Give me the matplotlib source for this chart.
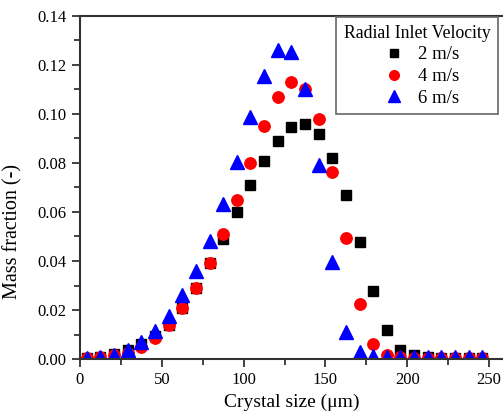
import matplotlib.pyplot as plt
from matplotlib.ticker import MultipleLocator, FormatStrFormatter

plt.rcParams['font.family'] = ['Liberation Serif', 'DejaVu Serif']

# crystal size bins (um)
size = [4.17, 12.5, 20.83, 29.17, 37.5, 45.83, 54.17, 62.5, 70.83, 79.17,
        87.5, 95.83, 104.17, 112.5, 120.83, 129.17, 137.5, 145.83, 154.17, 162.5,
        170.83, 179.17, 187.5, 195.83, 204.17, 212.5, 220.83, 229.17, 237.5, 245.83]

v2 = [0.0005, 0.001, 0.002, 0.0035, 0.006, 0.0095, 0.014, 0.021, 0.029, 0.039,
      0.049, 0.060, 0.071, 0.081, 0.089, 0.0945, 0.096, 0.092, 0.082, 0.067,
      0.0477, 0.0277, 0.0117, 0.0037, 0.0015, 0.0008, 0.0006, 0.0005, 0.0005, 0.0005]
v4 = [0.0005, 0.001, 0.0018, 0.0023, 0.005, 0.0087, 0.014, 0.021, 0.029, 0.039,
      0.051, 0.065, 0.080, 0.095, 0.107, 0.113, 0.110, 0.098, 0.0763, 0.0493,
      0.0226, 0.0062, 0.0016, 0.0008, 0.0005, 0.0005, 0.0005, 0.0005, 0.0005, 0.0005]
v6 = [0.0004, 0.001, 0.0018, 0.0035, 0.0068, 0.0114, 0.0177, 0.026, 0.036, 0.0483,
      0.0633, 0.0803, 0.0987, 0.1155, 0.126, 0.1254, 0.110, 0.0792, 0.0397, 0.011,
      0.0027, 0.0012, 0.0008, 0.0008, 0.0008, 0.0008, 0.0008, 0.0008, 0.0008, 0.0008]

fig = plt.figure(figsize=(5.03, 4.18), dpi=100)
ax = fig.add_axes([0.159, 0.141, 0.841, 0.821])

ax.plot(size, v2, 's', color='black', ms=7.2, label='2 m/s', linestyle='none')
ax.plot(size, v4, 'o', color='red', ms=8.2, label='4 m/s', linestyle='none')
ax.plot(size, v6, '^', color='blue', ms=9.5, label='6 m/s', linestyle='none')

ax.set_xlim(0, 258.5)
ax.set_ylim(0, 0.14)
ax.xaxis.set_major_locator(MultipleLocator(50))
ax.xaxis.set_minor_locator(MultipleLocator(25))
ax.yaxis.set_major_locator(MultipleLocator(0.02))
ax.yaxis.set_minor_locator(MultipleLocator(0.01))
ax.yaxis.set_major_formatter(FormatStrFormatter('%.2f'))

for s in ['left', 'bottom', 'top']:
    ax.spines[s].set_linewidth(1.5)
    ax.spines[s].set_color('#333333')
ax.spines['right'].set_visible(False)
ax.tick_params(which='both', direction='out', width=1.3, colors='#333333',
               labelcolor='black', labelsize=12, top=False, right=False)
ax.tick_params(which='major', length=6)
ax.tick_params(which='minor', length=4)

ax.set_xlabel('Crystal size (\u03bcm)', fontsize=14)
ax.set_ylabel('Mass fraction (-)', fontsize=14.5)
ax.yaxis.set_label_coords(-0.137, 0.373)

leg = ax.legend(title='Radial Inlet Velocity', loc='upper right',
                bbox_to_anchor=(498 / 503, 1 - 17 / 418),
                bbox_transform=fig.transFigure, fontsize=13.5,
                title_fontsize=12.8, fancybox=False, edgecolor='#666666',
                framealpha=1, borderaxespad=0, handletextpad=0.25,
                labelspacing=0.25, markerscale=0.85, borderpad=0.4)
leg.get_frame().set_linewidth(1.2)

fig.savefig('out.png', dpi=100)
